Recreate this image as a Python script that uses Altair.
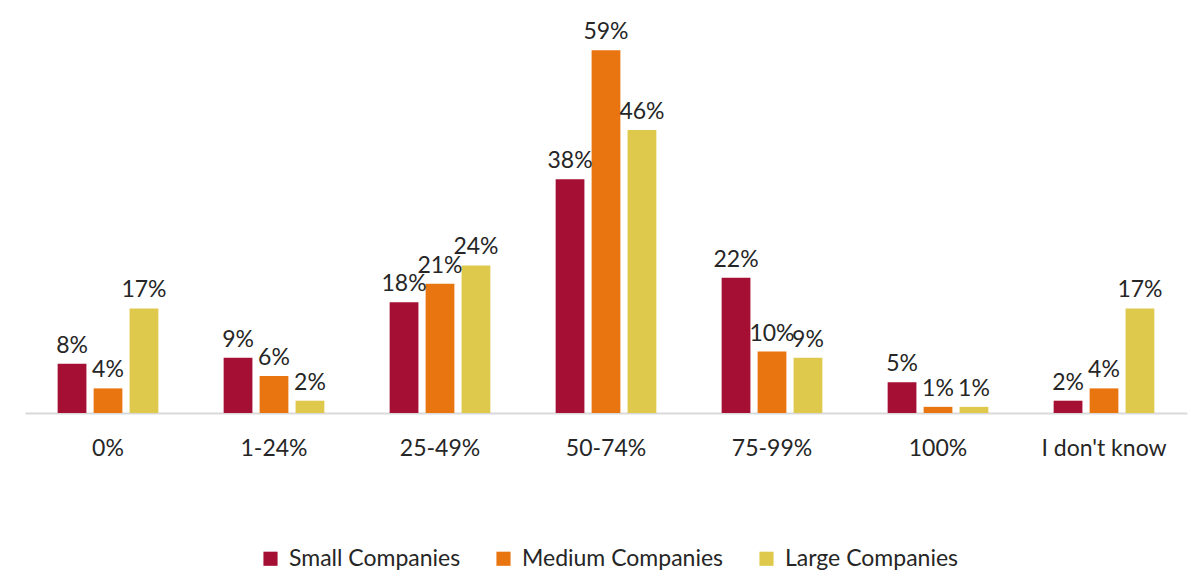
import altair as alt
import pandas as pd

categories = ["0%", "1-24%", "25-49%", "50-74%", "75-99%", "100%", "I don't know"]
series = ["Small Companies", "Medium Companies", "Large Companies"]
small = [8, 9, 18, 38, 22, 5, 2]
medium = [4, 6, 21, 59, 10, 1, 4]
large = [17, 2, 24, 46, 9, 1, 17]
colors = ["#A50F34", "#E97511", "#DFC94D"]

rows = []
for name, vals in zip(series, [small, medium, large]):
    for c, v in zip(categories, vals):
        rows.append({"cat": c, "series": name, "value": v, "label": f"{v}%"})
df = pd.DataFrame(rows)

FONT = "Lato"
FS = 23

base = alt.Chart(df).encode(
    x=alt.X("cat:N", sort=categories, title=None,
            scale=alt.Scale(paddingInner=0.35, paddingOuter=0.175),
            axis=alt.Axis(labelAngle=0, labelFontSize=FS, labelFont=FONT, labelColor="#262626",
                          labelPadding=24, ticks=False, domainColor="#D9D9D9", domainWidth=2)),
    xOffset=alt.XOffset("series:N", sort=series,
                        scale=alt.Scale(paddingInner=0.2, paddingOuter=0.1)),
    y=alt.Y("value:Q", scale=alt.Scale(domain=[0, 60], nice=False), axis=None),
)

bars = base.mark_bar().encode(
    color=alt.Color("series:N", sort=series,
                    scale=alt.Scale(domain=series, range=colors),
                    legend=alt.Legend(title=None, orient="none", direction="horizontal",
                                      legendX=234, legendY=503,
                                      symbolType="square", symbolSize=200, symbolStrokeWidth=0,
                                      labelFontSize=FS, labelFont=FONT, labelColor="#262626",
                                      labelLimit=0, columnPadding=31, labelOffset=7))
)

labels = base.mark_text(baseline="bottom", dy=-6, fontSize=FS, font=FONT, color="#262626").encode(
    text="label:N"
)

chart = (bars + labels).properties(
    width=1162, height=369,
    background="white",
    autosize=alt.AutoSizeParams(type="none"),
    padding={"left": 25, "top": 44, "right": 4, "bottom": 164},
).configure_view(stroke=None, strokeWidth=0)

chart.save("out.html", embed_options={"renderer": "svg", "actions": False})
